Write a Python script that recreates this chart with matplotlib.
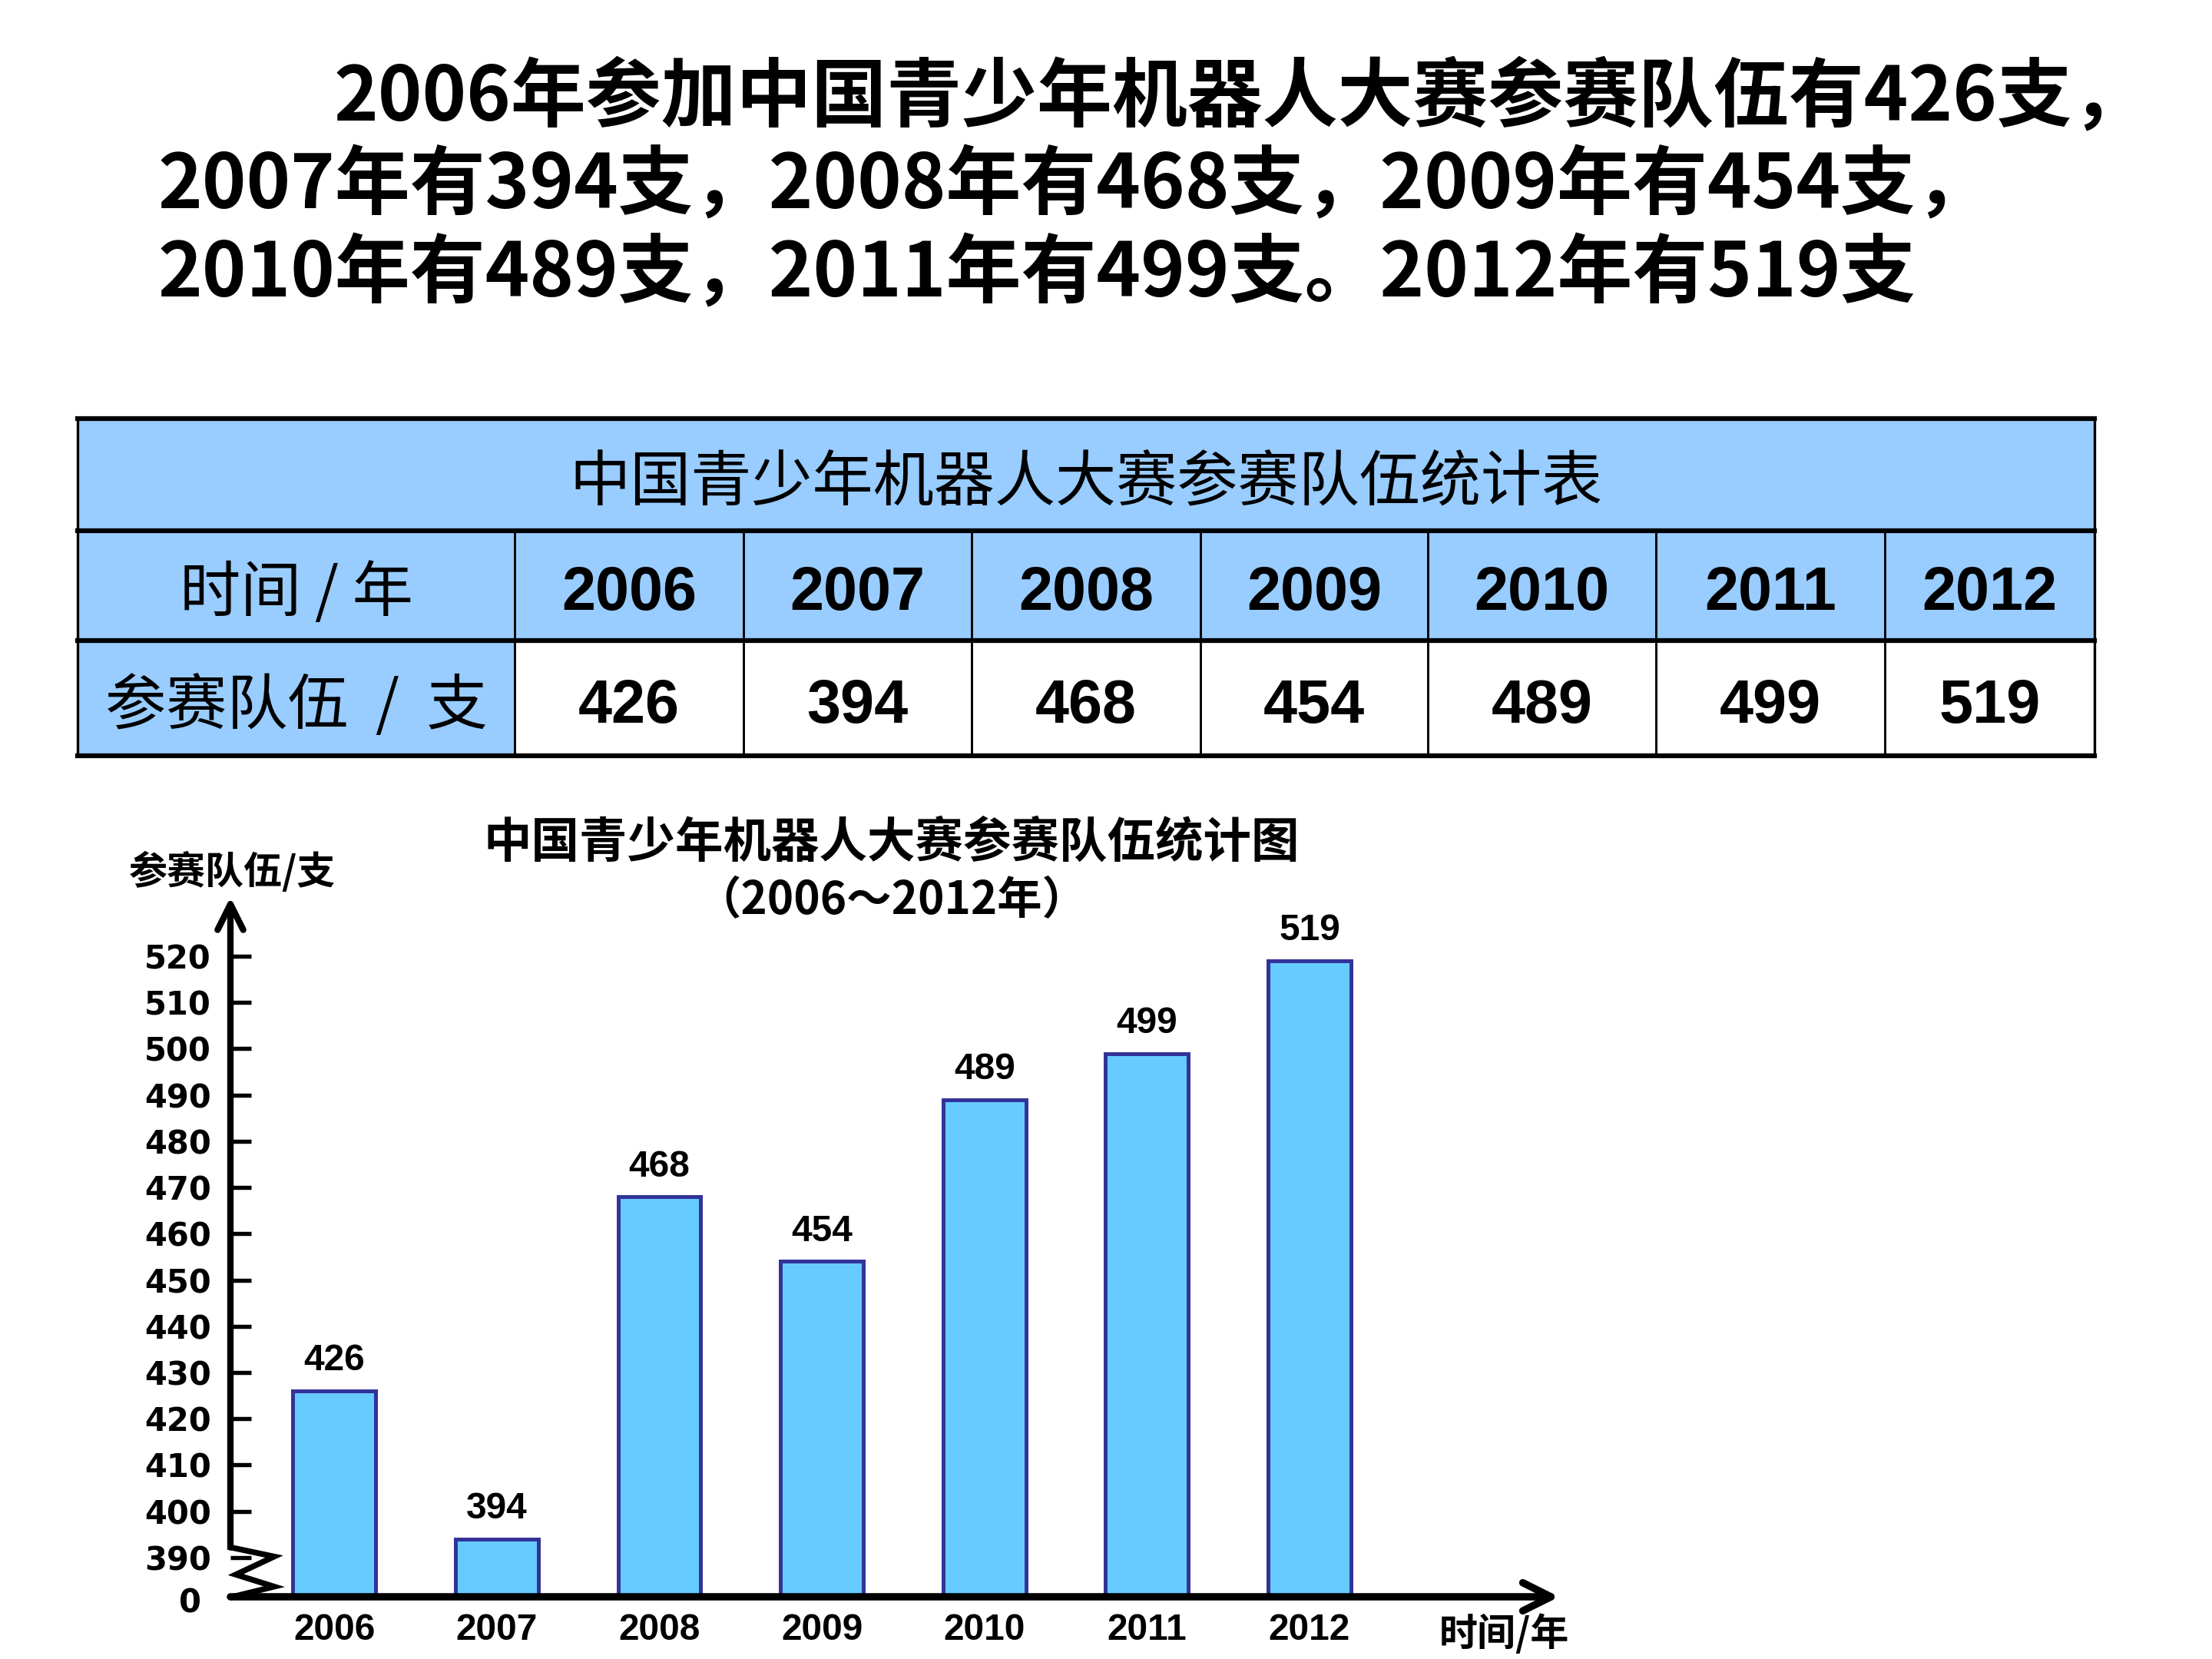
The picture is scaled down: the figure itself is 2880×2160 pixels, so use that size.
import numpy as np
import matplotlib
matplotlib.use('Agg')
import matplotlib.pyplot as plt
from matplotlib.patches import Rectangle

plt.rcParams['font.family'] = ['Noto Sans CJK SC', 'DejaVu Sans']

# --- data ---
years = ['2006', '2007', '2008', '2009', '2010', '2011', '2012']
teams = [426, 394, 468, 454, 489, 499, 519]
ytick_vals = list(range(390, 521, 10))

intro_lines = [
    '2006年参加中国青少年机器人大赛参赛队伍有426支，',
    '2007年有394支，2008年有468支，2009年有454支，',
    '2010年有489支，2011年有499支。2012年有519支',
]
table_title = '中国青少年机器人大赛参赛队伍统计表'
row_heads = ['时间 / 年', '参赛队伍  /  支']
chart_title = '中国青少年机器人大赛参赛队伍统计图'
chart_sub = '（2006～2012年）'
y_name = '参赛队伍/支'
x_name = '时间/年'

W, H = 2880, 2160
BLUE_CELL = '#99CCFF'
BAR_FILL = '#66CCFF'
BAR_EDGE = '#333399'


def fx(px):
    return px / W


def fy(py):
    return 1 - py / H


fig = plt.figure(figsize=(9.6, 7.2), dpi=300)

# ---------------------------------------------------------
# intro text
# ---------------------------------------------------------
for i, (line, x0) in enumerate(zip(intro_lines, [435, 206, 206])):
    fig.text(fx(x0), fy(128 + 115 * i), line, fontsize=23.5, fontweight='bold',
             ha='left', va='center')

# ---------------------------------------------------------
# table
# ---------------------------------------------------------
col_edges = [101, 670, 968, 1265, 1563, 1859, 2156, 2454, 2727]
row_edges = [545, 691, 834, 984]
txt_dy = 11  # CJK glyphs sit a bit high with va='center'
tax = fig.add_axes([fx(101), fy(984), fx(2727) - fx(101), (984 - 545) / H])
tax.set_xlim(col_edges[0], col_edges[-1])
tax.set_ylim(row_edges[-1], row_edges[0])
tax.axis('off')

tax.add_patch(Rectangle((col_edges[0], row_edges[0]), col_edges[-1] - col_edges[0],
                        row_edges[1] - row_edges[0], facecolor=BLUE_CELL, edgecolor='none'))
tax.add_patch(Rectangle((col_edges[0], row_edges[1]), col_edges[-1] - col_edges[0],
                        row_edges[2] - row_edges[1], facecolor=BLUE_CELL, edgecolor='none'))
tax.add_patch(Rectangle((col_edges[0], row_edges[2]), col_edges[1] - col_edges[0],
                        row_edges[3] - row_edges[2], facecolor=BLUE_CELL, edgecolor='none'))

for r in row_edges:
    tax.plot([col_edges[0], col_edges[-1]], [r, r], color='black', lw=1.5, clip_on=False)
for c in col_edges[1:-1]:
    tax.plot([c, c], [row_edges[1], row_edges[3]], color='black', lw=0.7, clip_on=False)
tax.plot([col_edges[0]] * 2, [row_edges[0], row_edges[3]], color='black', lw=0.8, clip_on=False)
tax.plot([col_edges[-1]] * 2, [row_edges[0], row_edges[3]], color='black', lw=0.8, clip_on=False)

tax.text((col_edges[0] + col_edges[-1]) / 2, (row_edges[0] + row_edges[1]) / 2 + txt_dy,
         table_title, fontsize=19, ha='center', va='center')
for j, head in enumerate(row_heads):
    yc = (row_edges[j + 1] + row_edges[j + 2]) / 2 + txt_dy
    tax.text((col_edges[0] + col_edges[1]) / 2, yc, head, fontsize=19, ha='center', va='center')
for k, (yr, n) in enumerate(zip(years, teams)):
    xc = (col_edges[k + 1] + col_edges[k + 2]) / 2
    tax.text(xc, (row_edges[1] + row_edges[2]) / 2 + txt_dy, yr, fontsize=19, fontweight='bold',
             family='Liberation Sans', ha='center', va='center')
    tax.text(xc, (row_edges[2] + row_edges[3]) / 2 + txt_dy, str(n), fontsize=19, fontweight='bold',
             family='Liberation Sans', ha='center', va='center')

# ---------------------------------------------------------
# bar chart with broken axis
# ---------------------------------------------------------
ax = fig.add_axes([fx(300), fy(2079), fx(2030) - fx(300), (2079 - 1168) / H])
floor = 381.5
x = np.arange(len(years))
ax.set_xlim(-0.639, 7.536)
ax.set_ylim(floor, 532.8)
x0, x1 = ax.get_xlim()

vals = np.array(teams)
ax.bar(x, vals - floor, bottom=floor, width=0.51, color=BAR_FILL,
       edgecolor=BAR_EDGE, linewidth=1.2, zorder=2)
for xi, v in zip(x, teams):
    ax.annotate(str(v), (xi, v), xytext=(0, 4), textcoords='offset points',
                ha='center', va='bottom', fontsize=11.5, fontweight='bold',
                family='Liberation Sans')

for s in ax.spines.values():
    s.set_visible(False)

ax.set_yticks(ytick_vals)
ax.set_yticklabels([str(t) for t in ytick_vals], family='DejaVu Sans',
                   fontweight='bold', fontsize=10)
ax.tick_params(axis='y', direction='in', length=6.5, width=1.3, pad=6)
ax.set_xticks(x)
ax.set_xticklabels(years, family='Liberation Sans', fontweight='bold', fontsize=11.5)
ax.tick_params(axis='x', length=0, pad=5)

# y axis with arrow
ax.annotate('', xy=(x0, 532.8), xytext=(x0, 392.2),
            arrowprops=dict(arrowstyle='->', lw=2, color='black', mutation_scale=20,
                            shrinkA=0, shrinkB=0), annotation_clip=False)
# x axis with arrow
ax.annotate('', xy=(x1, floor), xytext=(x0, floor),
            arrowprops=dict(arrowstyle='->', lw=2.3, color='black', mutation_scale=22,
                            shrinkA=0, shrinkB=0), annotation_clip=False, zorder=3)
# break zigzag
zig_x = x0 + np.array([0, 57, 7, 57, 3]) / 211.6
zig_y = [392.2, 390.2, 386.3, 383.7, floor]
ax.plot(zig_x, zig_y, color='black', lw=1.8, clip_on=False, solid_joinstyle='miter')

ax.annotate('0', (x0, floor), xytext=(-12.5, -2), textcoords='offset points',
            ha='center', va='center', family='DejaVu Sans', fontweight='bold', fontsize=10)

fig.text(fx(303), fy(1135), y_name, fontsize=12, fontweight='bold', ha='center', va='center')
fig.text(fx(1958), fy(2128), x_name, fontsize=12, fontweight='bold', ha='center', va='center')
fig.text(fx(1161), fy(1097), chart_title, fontsize=15, fontweight='bold', ha='center', va='center')
fig.text(fx(1161), fy(1172), chart_sub, fontsize=14, fontweight='bold', ha='center', va='center')

fig.savefig('out.png', dpi=300)
